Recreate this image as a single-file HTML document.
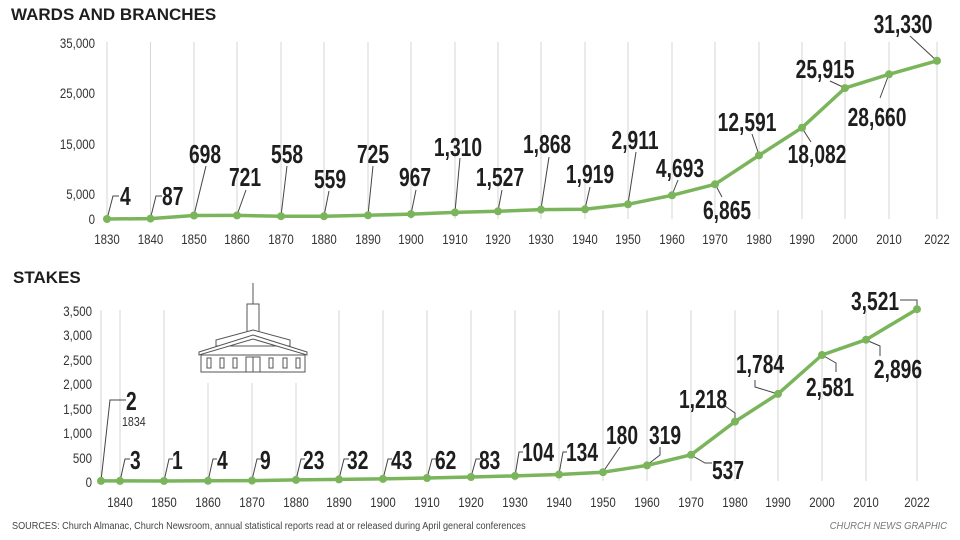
<!DOCTYPE html>
<html><head><meta charset="utf-8"><style>
html,body{margin:0;padding:0;background:#fff;}
svg{display:block;}
text{transform-box:fill-box;}
.lab{font-family:"Liberation Sans",sans-serif;font-weight:bold;font-size:26px;fill:#1e1e1e;text-anchor:middle;transform-origin:center;transform:scaleX(.74);}
.lbl{font-family:"Liberation Sans",sans-serif;font-weight:bold;font-size:26px;fill:#1e1e1e;text-anchor:start;transform-origin:left;transform:scaleX(.74);}
.tk{font-family:"Liberation Sans",sans-serif;font-size:14px;fill:#333;}
.tkr text{transform-origin:right;transform:scaleX(.82);}
.tkc text{transform-origin:center;transform:scaleX(.82);}
.small{transform-origin:left;transform:scaleX(.82);}
.g{stroke:#d6d6d6;stroke-width:1;}
.ld{stroke:#444;stroke-width:1;fill:none;}
</style></head><body>
<svg width="960" height="540" viewBox="0 0 960 540" xmlns="http://www.w3.org/2000/svg">
<text x="11" y="20" style="font-family:'Liberation Sans',sans-serif;font-weight:bold;font-size:17px;fill:#1e1e1e">WARDS AND BRANCHES</text>
<text x="13" y="283" style="font-family:'Liberation Sans',sans-serif;font-weight:bold;font-size:17px;fill:#1e1e1e">STAKES</text>

<!-- top grid -->
<g class="g">
<line x1="107" y1="42" x2="107" y2="219"/><line x1="150.5" y1="42" x2="150.5" y2="219"/><line x1="194" y1="42" x2="194" y2="219"/><line x1="237" y1="42" x2="237" y2="219"/><line x1="281" y1="42" x2="281" y2="219"/><line x1="324" y1="42" x2="324" y2="219"/><line x1="368" y1="42" x2="368" y2="219"/><line x1="411" y1="42" x2="411" y2="219"/><line x1="455" y1="42" x2="455" y2="219"/><line x1="498" y1="42" x2="498" y2="219"/><line x1="541" y1="42" x2="541" y2="219"/><line x1="585" y1="42" x2="585" y2="219"/><line x1="628" y1="42" x2="628" y2="219"/><line x1="672" y1="42" x2="672" y2="219"/><line x1="715" y1="42" x2="715" y2="219"/><line x1="759" y1="42" x2="759" y2="219"/><line x1="802" y1="42" x2="802" y2="219"/><line x1="845" y1="42" x2="845" y2="219"/><line x1="889" y1="42" x2="889" y2="219"/><line x1="937" y1="42" x2="937" y2="219"/>
</g>
<g class="tk tkr" text-anchor="end">
<text x="95" y="48">35,000</text><text x="95" y="98">25,000</text><text x="95" y="149">15,000</text><text x="95" y="199">5,000</text><text x="95" y="224">0</text>
</g>
<g class="tk tkc" text-anchor="middle">
<text x="107" y="244">1830</text><text x="150.5" y="244">1840</text><text x="194" y="244">1850</text><text x="237" y="244">1860</text><text x="281" y="244">1870</text><text x="324" y="244">1880</text><text x="368" y="244">1890</text><text x="411" y="244">1900</text><text x="455" y="244">1910</text><text x="498" y="244">1920</text><text x="541" y="244">1930</text><text x="585" y="244">1940</text><text x="628" y="244">1950</text><text x="672" y="244">1960</text><text x="715" y="244">1970</text><text x="759" y="244">1980</text><text x="802" y="244">1990</text><text x="845" y="244">2000</text><text x="889" y="244">2010</text><text x="937" y="244">2022</text>
</g>
<!-- top leaders -->
<g class="ld">
<path d="M107 219 L113 196 L119 196"/><path d="M150.5 218 L156 196 L162 196"/>
<path d="M194 215 L206 166"/><path d="M237 215 L246 190"/><path d="M281 216 L287 166"/><path d="M324 216 L329 191"/><path d="M368 215 L373 166"/><path d="M411 214 L416 190"/><path d="M455 212 L460 158"/><path d="M498 211 L502 190"/><path d="M541 209 L549 157"/><path d="M585 209 L590 187"/><path d="M628 204 L636 152"/><path d="M672 195 L678 180"/><path d="M715 184 L722 197"/><path d="M759 155 L752 134"/><path d="M802 128 L811 142"/><path d="M845 88 L830 81"/><path d="M889 74 L880 98"/><path d="M937 61 L910 36"/>
</g>
<polyline fill="none" stroke="#7ab55c" stroke-width="3.5" stroke-linejoin="round" points="107,219 150.5,218.6 194,215.5 237,215.4 281,216.2 324,216.2 368,215.3 411,214.1 455,212.4 498,211.3 541,209.6 585,209.3 628,204.3 672,195.3 715,184.3 759,155.4 802,127.7 845,88.1 889,74.3 937,60.8"/>
<g fill="#7ab55c">
<circle cx="107" cy="219" r="4"/><circle cx="150.5" cy="218.6" r="4"/><circle cx="194" cy="215.5" r="4"/><circle cx="237" cy="215.4" r="4"/><circle cx="281" cy="216.2" r="4"/><circle cx="324" cy="216.2" r="4"/><circle cx="368" cy="215.3" r="4"/><circle cx="411" cy="214.1" r="4"/><circle cx="455" cy="212.4" r="4"/><circle cx="498" cy="211.3" r="4"/><circle cx="541" cy="209.6" r="4"/><circle cx="585" cy="209.3" r="4"/><circle cx="628" cy="204.3" r="4"/><circle cx="672" cy="195.3" r="4"/><circle cx="715" cy="184.3" r="4"/><circle cx="759" cy="155.4" r="4"/><circle cx="802" cy="127.7" r="4"/><circle cx="845" cy="88.1" r="4"/><circle cx="889" cy="74.3" r="4"/><circle cx="937" cy="60.8" r="4"/>
</g>
<g>
<text class="lbl" x="120" y="205">4</text><text class="lbl" x="162" y="205">87</text>
<text class="lab" x="205" y="163">698</text><text class="lab" x="245" y="186">721</text><text class="lab" x="287" y="163">558</text><text class="lab" x="330" y="188">559</text><text class="lab" x="373" y="163">725</text><text class="lab" x="415" y="186">967</text><text class="lab" x="458" y="156">1,310</text><text class="lab" x="500" y="186">1,527</text><text class="lab" x="547" y="153">1,868</text><text class="lab" x="590" y="183">1,919</text><text class="lab" x="635" y="149">2,911</text><text class="lab" x="680" y="177">4,693</text><text class="lab" x="727" y="219">6,865</text><text class="lab" x="747" y="131">12,591</text><text class="lab" x="817" y="163">18,082</text><text class="lab" x="825" y="78">25,915</text><text class="lab" x="877" y="126">28,660</text><text class="lab" x="903" y="33">31,330</text>
</g>

<!-- bottom grid -->
<g class="g">
<line x1="101" y1="310" x2="101" y2="481"/><line x1="120" y1="310" x2="120" y2="481"/><line x1="164" y1="310" x2="164" y2="481"/><line x1="208" y1="383" x2="208" y2="481"/><line x1="252" y1="383" x2="252" y2="481"/><line x1="296" y1="383" x2="296" y2="481"/><line x1="339" y1="310" x2="339" y2="481"/><line x1="383" y1="310" x2="383" y2="481"/><line x1="427" y1="310" x2="427" y2="481"/><line x1="471" y1="310" x2="471" y2="481"/><line x1="515" y1="310" x2="515" y2="481"/><line x1="559" y1="310" x2="559" y2="481"/><line x1="603" y1="310" x2="603" y2="481"/><line x1="647" y1="310" x2="647" y2="481"/><line x1="691" y1="310" x2="691" y2="481"/><line x1="735" y1="310" x2="735" y2="481"/><line x1="778" y1="310" x2="778" y2="481"/><line x1="822" y1="310" x2="822" y2="481"/><line x1="866" y1="310" x2="866" y2="481"/><line x1="917" y1="310" x2="917" y2="481"/>
</g>
<g class="tk tkr" text-anchor="end">
<text x="92" y="316">3,500</text><text x="92" y="340">3,000</text><text x="92" y="365">2,500</text><text x="92" y="389">2,000</text><text x="92" y="414">1,500</text><text x="92" y="438">1,000</text><text x="92" y="463">500</text><text x="92" y="487">0</text>
</g>
<g class="tk tkc" text-anchor="middle">
<text x="120" y="507">1840</text><text x="164" y="507">1850</text><text x="208" y="507">1860</text><text x="252" y="507">1870</text><text x="296" y="507">1880</text><text x="339" y="507">1890</text><text x="383" y="507">1900</text><text x="427" y="507">1910</text><text x="471" y="507">1920</text><text x="515" y="507">1930</text><text x="559" y="507">1940</text><text x="603" y="507">1950</text><text x="647" y="507">1960</text><text x="691" y="507">1970</text><text x="735" y="507">1980</text><text x="778" y="507">1990</text><text x="822" y="507">2000</text><text x="866" y="507">2010</text><text x="917" y="507">2022</text>
</g>
<!-- building -->
<g fill="#fff" stroke="#555" stroke-width="1">
<line x1="253" y1="283" x2="253" y2="304"/>
<rect x="247" y="304" width="12" height="28"/>
<path d="M216 346 L216 340 L253 330 L290 340 L290 346 Z"/>
<path d="M199 352 L253 335 L307 352 L307 355 L253 339 L199 355 Z"/>
<rect x="201" y="355" width="104" height="17"/>
<rect x="207" y="358" width="4" height="10"/><rect x="220" y="358" width="4" height="10"/><rect x="233" y="358" width="4" height="10"/>
<rect x="246" y="357" width="14" height="15"/><line x1="253" y1="357" x2="253" y2="372"/>
<rect x="269" y="358" width="4" height="10"/><rect x="283" y="358" width="4" height="10"/><rect x="296" y="358" width="4" height="10"/>
</g>
<!-- bottom leaders -->
<g class="ld">
<path d="M101 481 L110 400 L126 400"/>
<path d="M120 481 L125 459 L130 459"/><path d="M164 481 L169 459 L173 459"/><path d="M208 481 L213 459 L217 459"/><path d="M252 480 L257 459 L261 459"/><path d="M296 480 L301 459 L305 459"/><path d="M339 479 L344 459 L349 459"/><path d="M383 479 L388 459 L392 459"/><path d="M427 478 L432 459 L436 459"/><path d="M471 477 L476 459 L480 459"/><path d="M515 476 L519 452 L523 452"/><path d="M559 474 L563 452 L567 452"/><path d="M603 472 L620 447"/><path d="M647 465 L660 455 L660 447"/><path d="M691 455 L705 463 L712 463"/><path d="M735 421 L735 413 L725 406"/><path d="M778 394 L755 387 L755 380"/><path d="M822 355 L836 363 L836 372"/><path d="M866 340 L880 346 L880 356"/><path d="M917 309 L917 300 L900 300"/>
</g>
<polyline fill="none" stroke="#7ab55c" stroke-width="3.5" stroke-linejoin="round" points="101,480.9 120,480.9 164,480.95 208,480.8 252,480.6 296,479.9 339,479.4 383,478.9 427,478 471,477 515,475.9 559,474.5 603,472.2 647,465.4 691,454.8 735,421.6 778,393.9 822,355 866,339.7 917,309.2"/>
<g fill="#7ab55c">
<circle cx="101" cy="480.9" r="4"/><circle cx="120" cy="480.9" r="4"/><circle cx="164" cy="480.95" r="4"/><circle cx="208" cy="480.8" r="4"/><circle cx="252" cy="480.6" r="4"/><circle cx="296" cy="479.9" r="4"/><circle cx="339" cy="479.4" r="4"/><circle cx="383" cy="478.9" r="4"/><circle cx="427" cy="478" r="4"/><circle cx="471" cy="477" r="4"/><circle cx="515" cy="475.9" r="4"/><circle cx="559" cy="474.5" r="4"/><circle cx="603" cy="472.2" r="4"/><circle cx="647" cy="465.4" r="4"/><circle cx="691" cy="454.8" r="4"/><circle cx="735" cy="421.6" r="4"/><circle cx="778" cy="393.9" r="4"/><circle cx="822" cy="355" r="4"/><circle cx="866" cy="339.7" r="4"/><circle cx="917" cy="309.2" r="4"/>
</g>
<g>
<text class="lbl" x="126" y="410">2</text>
<text class="tk small" x="122" y="426" style="font-size:13px">1834</text>
<text class="lbl" x="130" y="469">3</text><text class="lbl" x="172" y="469">1</text><text class="lbl" x="217" y="469">4</text><text class="lbl" x="260" y="469">9</text><text class="lbl" x="303" y="469">23</text><text class="lbl" x="347" y="469">32</text><text class="lbl" x="391" y="469">43</text><text class="lbl" x="435" y="469">62</text><text class="lbl" x="479" y="469">83</text>
<text class="lbl" x="522" y="461">104</text><text class="lbl" x="566" y="461">134</text>
<text class="lab" x="622" y="444">180</text><text class="lab" x="665" y="444">319</text><text class="lab" x="728" y="479">537</text><text class="lab" x="703" y="408">1,218</text><text class="lab" x="760" y="373">1,784</text><text class="lab" x="830" y="396">2,581</text><text class="lab" x="898" y="378">2,896</text><text class="lab" x="875" y="310">3,521</text>
</g>
<text class="small" x="12" y="529" style="font-family:'Liberation Sans',sans-serif;font-size:10.5px;fill:#444;transform:scaleX(.87)">SOURCES: Church Almanac, Church Newsroom, annual statistical reports read at or released during April general conferences</text>
<text x="947" y="529" text-anchor="end" style="font-family:'Liberation Sans',sans-serif;font-size:10.5px;font-style:italic;fill:#777;transform-origin:right;transform:scaleX(.9)">CHURCH NEWS GRAPHIC</text>
</svg>
</body></html>
